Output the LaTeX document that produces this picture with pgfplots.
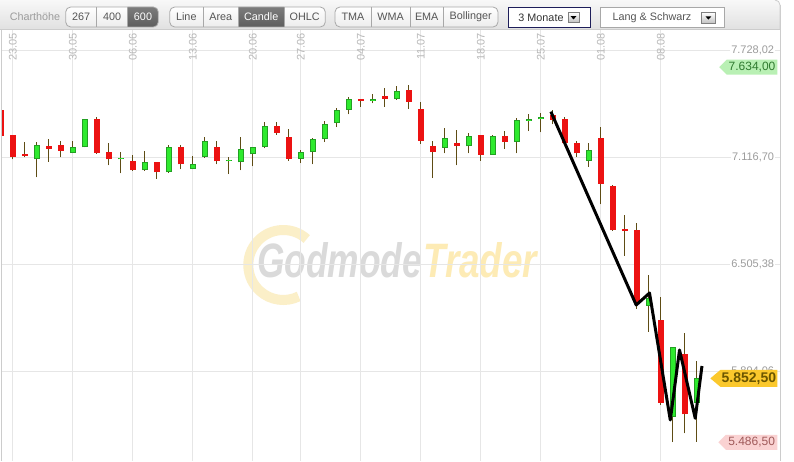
\documentclass[border=0pt]{standalone}
\usepackage{pgfplots}
\pgfplotsset{compat=1.18}
\usepackage{pgfplotstable}
\usepackage{graphicx}
\usepackage{fontspec}
\setmainfont{Liberation Sans}
\usetikzlibrary{shapes.symbols}

\definecolor{cRed}{HTML}{EC1212}
\definecolor{cGreen}{HTML}{2EEA2E}
\definecolor{cGreenB}{HTML}{23A023}
\definecolor{cWick}{HTML}{5E4C14}
\definecolor{cGrid}{HTML}{E6E6E6}
\definecolor{cLbl}{HTML}{9C9C9C}
\definecolor{cDate}{HTML}{B8B8B8}
\definecolor{cBorder}{HTML}{CCCCCC}
\definecolor{tbTop}{HTML}{F8F8F8}
\definecolor{tbBot}{HTML}{E0E0E0}
\definecolor{btnBorder}{HTML}{A8A8A8}
\definecolor{btnBot}{HTML}{ECECEC}
\definecolor{btnText}{HTML}{555555}
\definecolor{btnDarkTop}{HTML}{7C7C7C}
\definecolor{btnDarkBot}{HTML}{5E5E5E}
\definecolor{navy}{HTML}{1E1E5A}
\definecolor{wmGray}{HTML}{DADADA}
\definecolor{wmYellow}{HTML}{FDEBB5}
\definecolor{wmRing}{HTML}{FBEFC8}
\definecolor{bGreen}{HTML}{B9F0B4}
\definecolor{bGreenT}{HTML}{2F7A2F}
\definecolor{bYellow}{HTML}{FBC82C}
\definecolor{bYellowT}{HTML}{6A5500}
\definecolor{bPink}{HTML}{FAD2D2}
\definecolor{bPinkT}{HTML}{A05A5A}

\pgfplotstableread{
k O H L C
0 7389 7395 7234 7240
1 7245 7247 7106 7121
2 7137 7205 7118 7125
4 7183 7221 7091 7167
5 7187 7211 7118 7156
8 7335 7347 7137 7144
9 7148 7198 7072 7106
11 7097 7129 7040 7043
13 7089 7090 6995 7032
15 7175 7187 7049 7078
18 7175 7210 7078 7095
23 7295 7318 7248 7259
24 7232 7278 7098 7110
30 7453 7454 7406 7442
32 7469 7513 7406 7453
34 7503 7532 7393 7436
35 7393 7433 7194 7213
36 7183 7210 6998 7147
38 7200 7272 7072 7184
40 7246 7246 7098 7133
42 7240 7268 7167 7207
46 7360 7386 7306 7333
47 7337 7350 7194 7198
48 7201 7211 7121 7141
50 7227 7291 6849 6967
51 6954 6961 6698 6700
52 6707 6786 6553 6698
53 6702 6740 6250 6278
55 6187 6320 5700 5713
57 5990 6110 5538 5647
}\redcandles

\pgfplotstableread{
k O H L C
3 7106 7205 7003 7187
6 7144 7210 7141 7175
7 7175 7337 7175 7335
10 7106 7148 7026 7114
12 7043 7152 7040 7091
14 7032 7190 7030 7175
16 7053 7127 7049 7078
17 7118 7236 7116 7210
19 7095 7121 7021 7102
20 7089 7232 7043 7164
21 7135 7176 7066 7175
22 7175 7318 7169 7295
25 7110 7160 7084 7148
26 7147 7228 7078 7221
27 7221 7324 7205 7307
28 7313 7400 7290 7387
29 7389 7461 7364 7450
31 7442 7480 7427 7450
33 7450 7526 7446 7499
37 7173 7284 7141 7227
39 7181 7255 7141 7240
41 7133 7246 7132 7240
43 7207 7343 7141 7331
44 7327 7366 7267 7337
45 7335 7371 7261 7347
49 7098 7198 7064 7158
54 6267 6444 6120 6315
56 5633 6032 5487 6030
58 5713 5954 5490 5853
}\greencandles

\pgfplotstableread{
x y
45.83 7378.9
52.94 6272.4
54.05 6341.1
55.78 5614.2
56.55 6014.8
57.86 5623.9
58.42 5923.3
}\trendline

\begin{document}
\begin{tikzpicture}[x=1pt,y=1pt]
\path[use as bounding box] (0,0) rectangle (794,461);
\fill[white] (0,0) rectangle (794,461);

% watermark
\draw[wmRing, line width=10pt] (283.3,196) ++(48:35) arc[start angle=48, end angle=296, radius=35];
\node[anchor=south west, inner sep=0pt, text=wmGray] at (257,183) {\resizebox{165pt}{35pt}{\bfseries\itshape Godmode}};
\node[anchor=south west, inner sep=0pt, text=wmYellow] at (423,183) {\resizebox{114pt}{35pt}{\bfseries\itshape Trader}};

\begin{axis}[
  at={(1,0)}, anchor=south west, scale only axis,
  width=779pt, height=431pt,
  xmin=0.025, xmax=64.94, ymin=5379.5, ymax=7846.5,
  axis line style={draw=none},
  xtick={1,6,11,16,21,25,30,35,40,45,50,55},
  ytick={5894.06,6505.38,7116.70,7728.02},
  xticklabels={}, yticklabels={},
  tick style={draw=none},
  major tick length=0pt,
  grid=major, major grid style={cGrid, line width=1pt},
  clip=true,
]
% wicks
\addplot[draw=none, mark=none, forget plot, error bars/.cd, y dir=plus, y explicit, error mark=none,
  error bar style={draw=cWick, line width=1pt}]
  table[x=k, y=L, y error plus expr=\thisrow{H}-\thisrow{L}] {\redcandles};
\addplot[draw=none, mark=none, forget plot, error bars/.cd, y dir=plus, y explicit, error mark=none,
  error bar style={draw=cWick, line width=1pt}]
  table[x=k, y=L, y error plus expr=\thisrow{H}-\thisrow{L}] {\greencandles};
% red bodies
\addplot[draw=none, mark=none, forget plot, error bars/.cd, y dir=plus, y explicit, error mark=none,
  error bar style={draw=cRed, line width=6.3pt}]
  table[x=k, y=C, y error plus expr=\thisrow{O}-\thisrow{C}] {\redcandles};
% green bodies: border then fill
\addplot[draw=none, mark=none, forget plot, error bars/.cd, y dir=plus, y explicit, error mark=none,
  error bar style={draw=cGreenB, line width=6.3pt}]
  table[x=k, y=O, y error plus expr=\thisrow{C}-\thisrow{O}] {\greencandles};
\addplot[draw=none, mark=none, forget plot, error bars/.cd, y dir=plus, y explicit, error mark=none,
  error bar style={draw=cGreen, line width=4.3pt}]
  table[x=k, y expr=\thisrow{O}+5.7, y error plus expr=\thisrow{C}-\thisrow{O}-11.4] {\greencandles};
% trend line
\addplot[black, line width=3pt, line join=round, mark=none] table[x=x, y=y] {\trendline};

% date labels
\begin{scope}[every node/.style={rotate=90, anchor=east, inner sep=0pt, text=cDate, font=\fontsize{11}{11}\selectfont}]
\node at (axis cs:1,7829) {23.05};
\node at (axis cs:6,7829) {30.05};
\node at (axis cs:11,7829) {06.06};
\node at (axis cs:16,7829) {13.06};
\node at (axis cs:21,7829) {20.06};
\node at (axis cs:25,7829) {27.06};
\node at (axis cs:30,7829) {04.07};
\node at (axis cs:35,7829) {11.07};
\node at (axis cs:40,7829) {18.07};
\node at (axis cs:45,7829) {25.07};
\node at (axis cs:50,7829) {01.08};
\node at (axis cs:55,7829) {08.08};
\end{scope}

% y labels
\begin{scope}[every node/.style={anchor=east, fill=white, inner sep=1pt, text=cLbl, font=\fontsize{11}{11}\selectfont}]
\node at (axis cs:64.53,7728.02) {7.728,02};
\node at (axis cs:64.53,7116.70) {7.116,70};
\node at (axis cs:64.53,6505.38) {6.505,38};
\node at (axis cs:64.53,5894.06) {5.894,06};
\end{scope}

% badges
\node[signal, signal to=west, signal pointer angle=90, fill=bGreen, text=bGreenT,
  font=\fontsize{12}{12}\selectfont, inner xsep=2pt, inner ysep=0pt, minimum height=15pt, anchor=east]
  at (axis cs:64.72,7634) {7.634,00};
\node[signal, signal to=west, signal pointer angle=80, fill=bYellow, text=bYellowT,
  font=\fontsize{14}{14}\selectfont\bfseries, inner xsep=1.2pt, inner ysep=0pt, minimum height=17pt, anchor=east]
  at (axis cs:64.72,5852.5) {5.852,50};
\node[signal, signal to=west, signal pointer angle=90, fill=bPink, text=bPinkT,
  font=\fontsize{12}{12}\selectfont, inner xsep=2.4pt, inner ysep=0pt, minimum height=15pt, anchor=east]
  at (axis cs:64.72,5486.5) {5.486,50};
\end{axis}

% plot borders
\draw[cBorder, line width=1pt] (1.5,0) -- (1.5,431);
\draw[cBorder, line width=1pt] (780,0) -- (780,456);

% toolbar
\shade[top color=tbTop, bottom color=tbBot] (0,431) -- (0,461) -- (775,461) arc[start angle=90, end angle=0, radius=5] -- (780,431) -- cycle;
\draw[cBorder, line width=1pt] (0,431) -- (780,431);
\draw[cBorder, line width=0.8pt] (775,461) arc[start angle=90, end angle=0, radius=5] -- (780,431);

\begin{scope}[every node/.style={font=\fontsize{10.8}{12}\selectfont, inner sep=0pt}]
\node[text=cLbl] at (35,444) {Charthöhe};

% group 1
\begin{scope}
\clip[rounded corners=5pt] (65.7,434) rectangle (158.3,454);
\shade[top color=white, bottom color=btnBot] (65.7,434) rectangle (158.3,454);
\shade[top color=btnDarkTop, bottom color=btnDarkBot] (127.7,434) rectangle (158.3,454);
\end{scope}
\draw[btnBorder, line width=0.8pt, rounded corners=5pt] (65.7,434) rectangle (158.3,454);
\draw[btnBorder, line width=0.8pt] (96.7,434) -- (96.7,454) (127.7,434) -- (127.7,454);
\node[text=btnText] at (81.2,444) {267};
\node[text=btnText] at (112.2,444) {400};
\node[text=white] at (143,444) {600};

% group 2
\begin{scope}
\clip[rounded corners=5pt] (169.7,434) rectangle (325.3,454);
\shade[top color=white, bottom color=btnBot] (169.7,434) rectangle (325.3,454);
\shade[top color=btnDarkTop, bottom color=btnDarkBot] (238.3,434) rectangle (284,454);
\end{scope}
\draw[btnBorder, line width=0.8pt, rounded corners=5pt] (169.7,434) rectangle (325.3,454);
\draw[btnBorder, line width=0.8pt] (203,434) -- (203,454) (238.3,434) -- (238.3,454) (284,434) -- (284,454);
\node[text=btnText] at (186.3,444) {Line};
\node[text=btnText] at (220.7,444) {Area};
\node[text=white] at (261.2,444) {Candle};
\node[text=btnText] at (304.7,444) {OHLC};

% group 3
\begin{scope}
\clip[rounded corners=5pt] (335,434) rectangle (498,454);
\shade[top color=white, bottom color=btnBot] (335,434) rectangle (498,454);
\end{scope}
\draw[btnBorder, line width=0.8pt, rounded corners=5pt] (335,434) rectangle (498,454);
\draw[btnBorder, line width=0.8pt] (371,434) -- (371,454) (410,434) -- (410,454) (443.3,434) -- (443.3,454);
\node[text=btnText] at (353,444) {TMA};
\node[text=btnText] at (390.5,444) {WMA};
\node[text=btnText] at (426.7,444) {EMA};
\node[text=btnText] at (470.7,444) {Bollinger};

% dropdown 1
\draw[navy, line width=1pt, fill=white] (508.3,433.5) rectangle (590,453.7);
\node[text=black!80] at (541,443.6) {3 Monate};
\shade[top color=white, bottom color=black!25] (568,438.3) rectangle (579,448.6);
\draw[black!50, line width=0.6pt] (568,438.3) rectangle (579,448.6);
\fill[black] (570.6,444.8) -- (576.4,444.8) -- (573.5,441.6) -- cycle;

% dropdown 2
\draw[btnBorder, line width=1pt, fill=white] (600.7,433.7) rectangle (724.3,453.7);
\node[text=btnText] at (652,443.7) {Lang \& Schwarz};
\shade[top color=white, bottom color=black!25] (701.7,437.5) rectangle (715,448.6);
\draw[black!50, line width=0.6pt] (701.7,437.5) rectangle (715,448.6);
\fill[black] (705.5,444.6) -- (711.3,444.6) -- (708.4,441.4) -- cycle;
\end{scope}
\end{tikzpicture}
\end{document}
